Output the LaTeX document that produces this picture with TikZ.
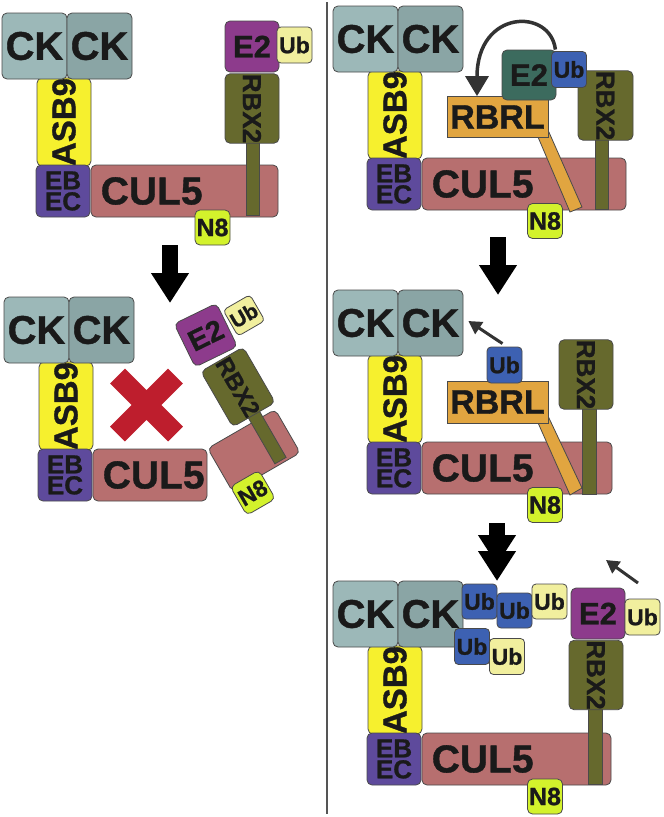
\documentclass[tikz,border=0pt]{standalone}
\usepackage{fontspec}
\setmainfont{Liberation Sans}[BoldFeatures={FakeBold=1}]
\usetikzlibrary{arrows.meta,positioning}

\definecolor{ckA}{HTML}{9CB8B8}
\definecolor{ckB}{HTML}{8AA5A5}
\definecolor{asbcol}{HTML}{F6F02E}
\definecolor{ebeccol}{HTML}{5E4A9C}
\definecolor{culcol}{HTML}{B76F6F}
\definecolor{rbxcol}{HTML}{66692D}
\definecolor{etwocol}{HTML}{8D3B8C}
\definecolor{etwogreen}{HTML}{3C6B5E}
\definecolor{ubpale}{HTML}{F1EF9E}
\definecolor{ubblue}{HTML}{3D61B2}
\definecolor{neightcol}{HTML}{D3F22C}
\definecolor{rbrlcol}{HTML}{E1A540}
\definecolor{crosscol}{HTML}{BE1E2D}
\definecolor{edgecol}{HTML}{4A4A4A}
\definecolor{inkcol}{HTML}{1A1A1A}
\definecolor{arrowcol}{HTML}{333333}
\definecolor{dividercol}{HTML}{555555}

\tikzset{
  part/.style={draw=edgecol, line width=0.8pt, rounded corners=5pt, inner sep=0pt, text=inkcol},
  ckpart/.style={part, minimum width=65pt, minimum height=66pt, font=\bfseries\fontsize{40pt}{40pt}\selectfont},
  asbpart/.style={part, fill=asbcol, rotate=90, minimum width=86pt, minimum height=54pt, font=\bfseries\fontsize{33pt}{33pt}\selectfont},
  ebecpart/.style={part, fill=ebeccol, minimum width=54pt, minimum height=52pt, align=center, font=\bfseries\fontsize{26pt}{21pt}\selectfont},
  culpart/.style={part, fill=culcol, minimum height=52pt},
  cultext/.style={inner sep=0pt, text=inkcol, font=\bfseries\fontsize{39pt}{39pt}\selectfont},
  stalkpart/.style={draw=edgecol, line width=0.8pt, fill=rbxcol, minimum width=13pt, inner sep=0pt},
  rbxpart/.style={part, fill=rbxcol, rotate=-90, minimum width=69pt, minimum height=54pt, font=\bfseries\fontsize{26pt}{26pt}\selectfont},
  etwopart/.style={part, minimum width=54pt, minimum height=51pt, font=\bfseries\fontsize{31pt}{31pt}\selectfont},
  ubpart/.style={part, rounded corners=4pt, minimum width=35pt, minimum height=36pt, font=\bfseries\fontsize{23pt}{23pt}\selectfont},
  neightpart/.style={part, fill=neightcol, minimum width=35pt, minimum height=35pt, font=\bfseries\fontsize{25pt}{25pt}\selectfont},
  rbrlpart/.style={draw=edgecol, line width=0.8pt, fill=rbrlcol, inner sep=0pt, text=inkcol, minimum width=101pt, minimum height=41pt, font=\bfseries\fontsize{34pt}{34pt}\selectfont},
  tailpart/.style={draw=edgecol, line width=0.8pt, fill=rbrlcol},
  bigarrow/.style={line width=16pt, -{Triangle[width=36pt,length=30pt]}},
  smallarrow/.style={draw=arrowcol, line width=3pt, -{Triangle[width=14pt,length=13pt]}},
  loopback/.style={draw=arrowcol, line width=3.5pt, -{Triangle[width=23pt,length=20pt]}},
  xmark/.style={draw=crosscol, line width=21pt},
  divider/.style={draw=dividercol, line width=1.2pt}
}

% CK dimer + ASB9 + EloB/C + CUL5 body, top left corner of CK at (#2,#3)
\newcommand{\cklinker}[4]{%
  \begin{scope}[shift={(#2,#3)}]
    \node[asbpart] (#1-asb) at (62,109) {ASB9};
    \node[ckpart, fill=ckA] (#1-ckl) at (32.5,33) {CK};
    \node[ckpart, fill=ckB, right=-0.8pt of #1-ckl] (#1-ckr) {CK};
    \node[culpart, minimum width=#4pt] (#1-cul) at ({89+#4/2},178) {};
    \node[cultext, anchor=west] (#1-cultxt) at ([xshift=10pt]#1-cul.west) {CUL5};
    \node[ebecpart] (#1-ebec) at (61,178) {EB\\EC};
  \end{scope}}

\begin{document}
\begin{tikzpicture}[x=1pt, y=-1pt]
\path[fill=white, use as bounding box] (0,0) rectangle (664,817);

% left, top
\cklinker{tl}{2}{13}{187}
\node[stalkpart, minimum height=85pt] (tl-stalk) at (252.5,172.5) {};
\node[rbxpart] (tl-rbx) at (252,108.5) {RBX2};
\node[etwopart, fill=etwocol] (tl-e2) at (252,46.5) {E2};
\node[ubpart, fill=ubpale] (tl-ub) at (294.5,45) {Ub};
\node[neightpart] (tl-n8) at (212.5,227.5) {N8};

\coordinate (tl-down-s) at (170,245);
\coordinate (tl-down-e) at (170,303);
\draw[bigarrow] (tl-down-s) -- (tl-down-e);

% left, bottom
\cklinker{bl}{4}{297}{114}
\draw[xmark] (117.5,376) -- (175.5,434) (117.5,434) -- (175.5,376);
\begin{scope}[shift={(238,387)}, rotate=30, transform shape]
  \node[culpart, minimum width=78pt, minimum height=50pt] (bl-culend) at (-18,63) {};
  \node[stalkpart, minimum height=57pt] (bl-stalk) at (0,56.5) {};
  \node[rbxpart, minimum width=64pt, minimum height=49pt, font=\bfseries\fontsize{24pt}{24pt}\selectfont] (bl-rbx) at (0,0) {RBX2};
  \node[etwopart, fill=etwocol, rotate=-4, minimum width=47pt, minimum height=48pt, font=\bfseries\fontsize{29pt}{29pt}\selectfont] (bl-e2) at (-2,-61) {E2};
  \node[ubpart, fill=ubpale, minimum width=31pt, minimum height=30pt, font=\bfseries\fontsize{21pt}{21pt}\selectfont] (bl-ub) at (41,-59) {Ub};
  \node[neightpart, minimum width=33pt, minimum height=33pt, font=\bfseries\fontsize{23pt}{23pt}\selectfont] (bl-n8) at (-40,99) {N8};
\end{scope}

\draw[divider] (327,2) -- (327,814);

% right, top
\cklinker{tr}{333}{6}{204}
\node[stalkpart, minimum height=79pt] (tr-stalk) at (601.5,169.5) {};
\node[rbxpart, minimum width=69pt, minimum height=55pt] (tr-rbx) at (605.5,105.5) {RBX2};
\draw[tailpart] (535,130) -- (548,130) -- (582,207) -- (570,212) -- cycle;
\node[rbrlpart] (tr-rbrl) at (497.5,117) {RBRL};
\node[etwopart, fill=etwogreen, minimum height=50pt] (tr-e2) at (529,75) {E2};
\node[ubpart, fill=ubblue] (tr-ub) at (569,69.5) {Ub};
\node[neightpart] (tr-n8) at (545,221) {N8};
\draw[loopback] ([xshift=-1pt]tr-e2.north east) .. controls +(-5,-42) and +(0,-87) .. ([xshift=-20.5pt]tr-rbrl.north);

\coordinate (tr-down-s) at (498,237);
\coordinate (tr-down-e) at (498,295);
\draw[bigarrow] (tr-down-s) -- (tr-down-e);

% right, middle
\cklinker{mr}{333}{290}{190}
\node[stalkpart, minimum width=14pt, minimum height=94pt] (mr-stalk) at (589,447) {};
\node[rbxpart] (mr-rbx) at (586,374.5) {RBX2};
\draw[tailpart] (535,416) -- (548,416) -- (582,488) -- (570,495) -- cycle;
\node[rbrlpart, minimum height=42pt] (mr-rbrl) at (497.5,402) {RBRL};
\node[ubpart, fill=ubblue] (mr-ub) at (504.5,365) {Ub};
\node[neightpart] (mr-n8) at (545,505) {N8};
\draw[smallarrow] ([xshift=-2pt, yshift=3pt]mr-ub.north) -- ([xshift=5pt, yshift=2pt]mr-ckr.east);

\coordinate (mr-down-s) at (497,523);
\coordinate (mr-down-m) at (497,565);
\coordinate (mr-down-t) at (497,545);
\coordinate (mr-down-e) at (497,581);
\draw[bigarrow] (mr-down-s) -- (mr-down-m);
\draw[bigarrow] (mr-down-t) -- (mr-down-e);

% right, bottom
\cklinker{br}{333}{581}{189}
\node[stalkpart, minimum width=14pt, minimum height=84pt] (br-stalk) at (595,742) {};
\node[rbxpart, minimum width=68pt] (br-rbx) at (596,675) {RBX2};
\node[etwopart, fill=etwocol] (br-e2) at (598,613.5) {E2};
\node[ubpart, fill=ubpale] (br-ub) at (642.5,617) {Ub};
\node[ubpart, fill=ubblue, minimum height=35pt] (br-ub1) at (479.5,601.5) {Ub};
\node[ubpart, fill=ubblue, minimum height=35pt, right=-0.8pt of br-ub1, yshift=-9pt] (br-ub2) {Ub};
\node[ubpart, fill=ubpale, minimum height=35pt, right=-0.8pt of br-ub2, yshift=9pt] (br-ub3) {Ub};
\node[ubpart, fill=ubblue] (br-ub4) at (472,646.5) {Ub};
\node[ubpart, fill=ubpale, right=-0.8pt of br-ub4, yshift=-10pt] (br-ub5) {Ub};
\node[neightpart] (br-n8) at (545,796.5) {N8};
\coordinate (br-push-s) at (638,583);
\coordinate (br-push-e) at (606,560);
\draw[smallarrow] (br-push-s) -- (br-push-e);
\end{tikzpicture}
\end{document}
